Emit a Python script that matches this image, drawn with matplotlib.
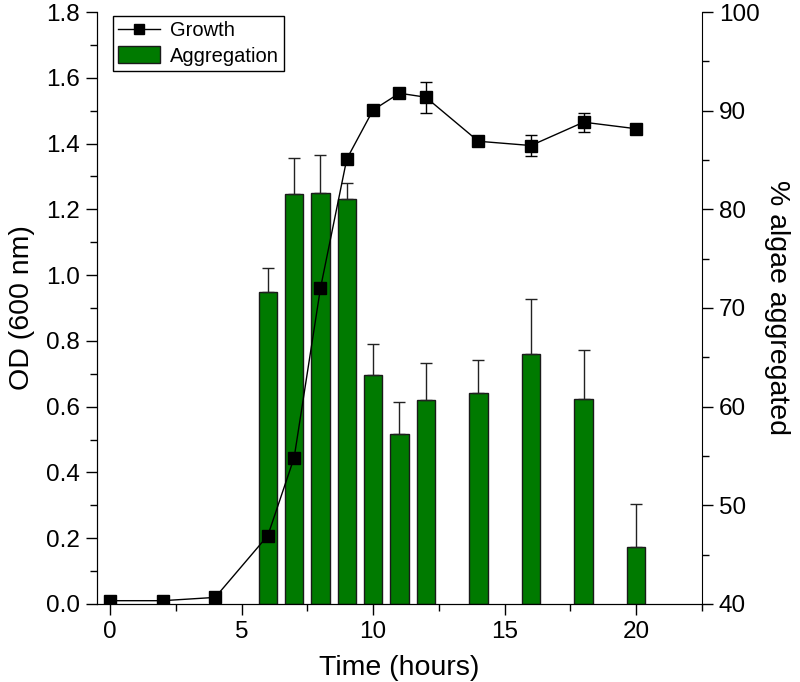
import numpy as np
import matplotlib.pyplot as plt
from matplotlib.ticker import MultipleLocator
from matplotlib.lines import Line2D

plt.rcParams['font.family'] = ['Liberation Sans', 'DejaVu Sans']

# Growth (OD 600 nm)
growth_time = [0, 2, 4, 6, 7, 8, 9, 10, 11, 12, 14, 16, 18, 20]
growth_od = [0.01, 0.01, 0.02, 0.208, 0.445, 0.96, 1.353, 1.502, 1.553, 1.541, 1.407, 1.394, 1.465, 1.445]
growth_err = [0.005, 0.005, 0.006, 0.01, 0.01, 0.01, 0.01, 0.01, 0.01, 0.047, 0.01, 0.032, 0.029, 0.01]

# Aggregation (% algae aggregated)
agg_time = [6, 7, 8, 9, 10, 11, 12, 14, 16, 18, 20]
agg_pct = [71.6, 81.55, 81.7, 81.0, 63.2, 57.2, 60.7, 61.4, 65.3, 60.8, 45.8]
agg_err = [2.5, 3.7, 3.8, 1.7, 3.1, 3.3, 3.7, 3.3, 5.6, 4.9, 4.3]

fig = plt.figure(figsize=(8, 6.82), dpi=100)
ax = fig.add_axes([0.121, 0.1144, 0.7565, 0.868])
ax2 = ax.twinx()

bars = ax2.bar(agg_time, np.array(agg_pct) - 40, bottom=40, width=0.7,
               color='#007a00', edgecolor='#1a1a1a', linewidth=1, label='Aggregation')
ax2.errorbar(agg_time, agg_pct, yerr=[np.zeros(len(agg_err)), agg_err], fmt='none',
             ecolor='#222222', elinewidth=1, capsize=4, capthick=1)

ax.errorbar(growth_time, growth_od, yerr=growth_err, fmt='s-', color='black',
            ms=8, lw=1, elinewidth=1, capsize=4, capthick=1)

ax.set_zorder(ax2.get_zorder() + 1)
ax.patch.set_visible(False)

ax.set_xlim(-0.5, 22.5)
ax.set_ylim(0, 1.8)
ax2.set_ylim(40, 100)

ax.xaxis.set_major_locator(MultipleLocator(5))
ax.xaxis.set_minor_locator(MultipleLocator(2.5))
ax.yaxis.set_major_locator(MultipleLocator(0.2))
ax.yaxis.set_minor_locator(MultipleLocator(0.1))
ax2.yaxis.set_major_locator(MultipleLocator(10))
ax2.yaxis.set_minor_locator(MultipleLocator(5))
ax.yaxis.set_major_formatter(plt.FormatStrFormatter('%.1f'))

for a in (ax, ax2):
    a.spines['top'].set_visible(False)
    a.tick_params(which='major', length=8, width=1, labelsize=17.5, direction='out', pad=4)
    a.tick_params(which='minor', length=5, width=1, direction='out')
ax.spines['right'].set_visible(False)

ax.set_xlabel('Time (hours)', fontsize=20.5, labelpad=9)
ax.set_ylabel('OD (600 nm)', fontsize=20.5, labelpad=8)
ax2.set_ylabel('% algae aggregated', fontsize=20.5, rotation=270, labelpad=22)

growth_handle = Line2D([], [], color='black', marker='s', ms=7, lw=1)
leg = ax.legend([growth_handle, bars], ['Growth', 'Aggregation'], loc='upper left',
                bbox_to_anchor=(0.02, 1.0), fontsize=14.5, frameon=True, fancybox=False,
                edgecolor='black', framealpha=1, borderpad=0.25, handlelength=2.1,
                handleheight=0.9, handletextpad=0.5, labelspacing=0.3, borderaxespad=0.2)
leg.get_frame().set_linewidth(1)

fig.savefig('out.png', dpi=100)
